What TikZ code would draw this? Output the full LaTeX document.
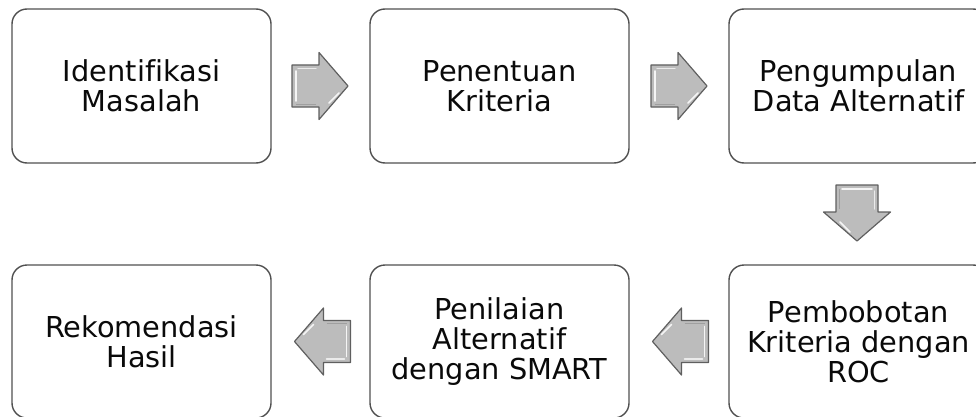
\documentclass[tikz,border=0pt]{standalone}
\usepackage{fontspec}
\setmainfont[Ligatures=NoCommon]{DejaVu Sans}
\definecolor{boxline}{RGB}{80,80,80}
\definecolor{boxtext}{RGB}{10,10,10}
\definecolor{arrfill}{RGB}{188,188,188}
\definecolor{arrline}{RGB}{95,95,95}
\definecolor{arrshade}{RGB}{140,140,140}
\begin{document}
\begin{tikzpicture}[x=1pt,y=1pt,
  stepbox/.style={draw=boxline, line width=1.4pt, rounded corners=15pt,
    minimum width=259pt, inner sep=0pt, align=center, text=boxtext,
    font=\fontsize{28.8}{30}\selectfont},
  toprow/.style={stepbox, minimum height=154pt},
  botrow/.style={stepbox, minimum height=153pt},
  grayarrow/.pic={
    \path[fill=arrfill, draw=arrline, line width=1.2pt, line join=round]
      (-28,-21) -- (-1,-21) -- (-1,-33.5) -- (28,0) -- (-1,33.5) -- (-1,21) -- (-28,21) -- cycle;
    \draw[white, opacity=.85, line width=1.6pt, line cap=round] (-24,-15) -- (-24,15);
    \draw[white, opacity=.7, line width=1.4pt, line cap=round] (-22,17.5) -- (-4,17.5);
    \draw[white, opacity=.85, line width=1.6pt, line cap=round] (9,-17) -- (19,-7);
    \draw[arrshade, opacity=.6, line width=1pt] (-4,-18) -- (-24,-18);
  }]
\useasboundingbox (0,0) rectangle (976,416);
\clip (0,0) rectangle (976,416);
\node[toprow] (b1) at (141.5,330) {Identifikasi\\Masalah};
\node[toprow] (b2) at (499.5,330) {Penentuan\\Kriteria};
\node[toprow] (b3) at (858.5,330) {Pengumpulan\\Data Alternatif};
\node[botrow] (b4) at (858.5,74.5) {Pembobotan\\Kriteria dengan\\ROC};
\node[botrow] (b5) at (499.5,74.5) {Penilaian\\Alternatif\\dengan SMART};
\node[botrow] (b6) at (141.5,74.5) {Rekomendasi\\Hasil};
\pic at (320,330) {grayarrow};
\pic at (679,330) {grayarrow};
\pic[rotate=-90] at (857,203) {grayarrow};
\pic[rotate=180] at (680.5,74.5) {grayarrow};
\pic[rotate=180] at (322.5,74.5) {grayarrow};
\end{tikzpicture}
\end{document}
